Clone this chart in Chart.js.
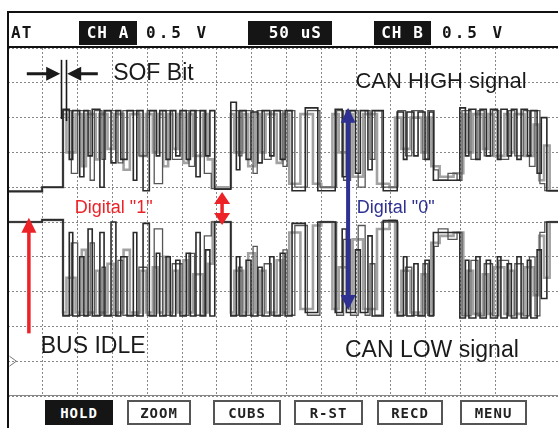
<!DOCTYPE html>
<html>
<head>
<meta charset="utf-8">
<script src="https://cdn.jsdelivr.net/npm/chart.js@4.4.0/dist/chart.umd.min.js"></script>
<style>
  body { margin: 0; background: #fff; }
  #wrap { position: relative; width: 558px; height: 428px; overflow: hidden; }
  #scope { position: absolute; left: 0; top: 0; }
  .rule { position: absolute; background: #111; }
  .lcd { position: absolute; top: 21px; height: 24px; line-height: 24px; font-family: "DejaVu Sans Mono", monospace;
         font-weight: bold; font-size: 16px; white-space: pre; color: #151515; letter-spacing: 1px; }
  .inv { background: #151515; color: #fff; text-align: center; }
  .btn { position: absolute; top: 400px; height: 25px; line-height: 23px; font-family: "DejaVu Sans Mono", monospace;
         font-weight: bold; font-size: 14px; text-align: center; border: 2px solid #555; box-sizing: border-box;
         color: #222; letter-spacing: 1px; }
  .btn.on { background: #151515; color: #fff; border-color: #151515; }
</style>
</head>
<body>
<div id="wrap">
  <canvas id="scope" width="558" height="428"></canvas>

  <!-- scope frame -->
  <div class="rule" style="left:7px;top:11px;width:551px;height:2px"></div>
  <div class="rule" style="left:7px;top:11px;width:2px;height:417px"></div>
  <div class="rule" style="left:7px;top:46px;width:551px;height:2px"></div>
  <div class="rule" style="left:9px;top:395px;width:549px;height:1px;background:#888"></div>

  <!-- status line -->
  <div class="lcd" style="left:11px">AT</div>
  <div class="lcd inv" style="left:79px;width:58px">CH A</div>
  <div class="lcd" style="left:146px;letter-spacing:3px">0.5 V</div>
  <div class="lcd inv" style="left:248px;width:84px"> 50 uS</div>
  <div class="lcd inv" style="left:374px;width:57px">CH B</div>
  <div class="lcd" style="left:442px;letter-spacing:3px">0.5 V</div>

  <!-- soft keys -->
  <div class="btn on" style="left:45px;width:68px">HOLD</div>
  <div class="btn" style="left:127px;width:64px">ZOOM</div>
  <div class="btn" style="left:213px;width:68px">CUBS</div>
  <div class="btn" style="left:294px;width:69px">R-ST</div>
  <div class="btn" style="left:377px;width:66px">RECD</div>
  <div class="btn" style="left:460px;width:67px">MENU</div>
</div>

<script>
// time in µs (50 µs/div), levels in volts (0.5 V/div)
const tMain = [0,49,79,88,93,103,109,115,121,132,
  138,148,155,162,171,180,185,194,203,213,
  218,227,233,241,247,256,262,270,276,284,
  290,297,320,328,333,342,349,359,365,376,
  382,391,398,408,427,445,470,480,486,499,
  506,517,523,539,559,568,573,583,589,599,
  605,611,649,657,662,672,678,687,693,703,
  708,717,723,731,737,746,751,760,766,774,790];
const canHighMain = [2.44,2.5,3.62,2.9,3.6,2.65,3.6,2.95,3.62,2.5,
  3.6,2.85,3.6,2.9,3.6,2.6,3.6,2.45,3.6,2.95,
  3.6,2.9,3.6,2.95,3.6,2.9,3.6,2.65,3.6,2.95,
  3.6,2.47,3.72,2.75,3.6,2.9,3.58,2.85,3.6,2.95,
  3.6,2.9,3.6,2.45,3.64,2.45,3.62,2.65,3.6,2.7,
  3.6,2.75,3.6,2.45,3.58,2.9,3.58,2.95,3.58,2.9,
  3.58,2.6,3.64,2.95,3.62,2.9,3.62,2.95,3.62,2.9,
  3.62,2.95,3.62,2.9,3.62,2.95,3.6,2.7,3.5,2.45,2.45];
const canLowMain = [2.0,2.03,0.65,1.85,0.65,1.5,0.65,1.9,0.65,1.85,
  0.65,2.0,0.65,1.5,0.65,1.85,0.65,1.98,0.65,1.55,
  0.65,1.5,0.65,1.45,0.65,1.55,0.65,1.85,0.65,1.6,
  0.65,2.0,0.65,1.5,0.65,1.45,0.65,1.35,0.65,1.5,
  0.65,1.55,0.65,1.98,0.7,2.0,0.7,1.9,0.7,1.6,
  0.7,1.8,0.65,2.02,0.65,1.5,0.65,1.4,0.65,1.45,
  0.65,1.85,0.62,1.45,0.62,1.5,0.62,1.45,0.62,1.5,
  0.62,1.4,0.62,1.5,0.62,1.45,0.62,1.6,0.9,2.0,2.0];

// older sweeps left on screen by the persistence
const tGhostA = [0,49,79,84,97,106,112,126,131,143,
  152,166,175,190,198,208,215,223,230,237,
  244,252,259,266,280,287,294,320,325,338,
  345,355,362,370,386,394,404,420,438,450,
  466,475,490,495,510,530,548,556,565,578,
  594,602,608,620,640,654,660,668,682,690,
  698,713,720,727,742,755,763,770,778,790];
const canHighGhostA = [2.44,2.5,3.55,3.0,3.55,2.8,3.55,2.9,3.55,3.05,
  3.55,2.75,3.55,2.95,3.55,3.0,3.55,2.8,3.55,3.05,
  3.55,2.85,3.55,2.95,3.55,2.9,2.5,3.55,3.0,3.55,
  2.8,3.55,3.0,3.55,2.85,3.55,2.55,3.55,2.55,2.5,
  3.55,3.0,3.55,2.65,3.55,2.55,2.5,3.5,3.05,3.5,
  3.0,3.5,2.8,2.65,2.7,3.55,3.0,3.55,3.05,3.55,
  2.95,3.55,3.0,3.55,2.95,3.4,2.6,3.1,2.45,2.45];
const canLowGhostA = [2.0,2.03,0.7,1.2,0.7,1.6,0.7,1.3,0.7,1.4,
  0.7,1.6,0.7,1.3,0.7,1.35,0.7,1.5,0.7,1.3,
  0.7,1.45,0.7,1.25,0.7,1.4,2.0,0.7,1.3,0.7,
  1.55,0.7,1.3,0.7,1.45,0.7,1.85,0.75,1.95,2.0,
  0.75,1.35,0.75,1.75,0.75,1.9,2.02,0.7,1.3,0.7,
  1.25,0.7,1.7,1.8,1.85,0.68,1.3,0.68,1.25,0.68,
  1.35,0.68,1.3,0.68,1.35,0.95,1.8,1.2,2.0,2.0];

const tGhostB = [0,49,79,91,100,118,124,135,140,158,
  165,188,200,210,222,236,250,260,268,282,
  292,320,331,336,352,358,368,378,395,401,
  412,430,448,472,482,492,503,513,520,527,
  537,560,571,580,596,603,612,618,632,645,
  652,665,675,684,696,705,719,728,740,749,
  757,764,771,790];
const canHighGhostB = [2.44,2.5,3.6,2.7,3.6,2.6,3.6,2.9,3.6,2.85,
  3.6,2.95,3.6,2.55,3.6,2.9,3.6,2.8,3.6,2.7,
  2.48,3.6,2.95,3.6,2.7,3.6,2.9,3.6,2.8,3.6,
  2.5,3.6,2.5,3.6,2.6,3.6,2.5,3.6,2.9,3.6,
  2.5,3.6,2.95,3.6,2.9,3.6,2.75,2.6,2.7,2.6,
  3.6,2.9,3.6,2.95,3.6,2.9,3.6,2.95,3.6,2.8,
  3.6,2.55,2.45,2.45];
const canLowGhostB = [2.0,2.03,0.66,1.7,0.66,1.7,0.66,1.35,0.66,1.45,
  0.66,1.35,0.66,1.9,0.66,1.4,0.66,1.55,0.66,1.8,
  2.0,0.66,1.35,0.66,1.65,0.66,1.4,0.66,1.6,0.66,
  1.95,0.66,2.0,0.66,1.75,0.66,1.95,0.66,1.4,0.66,
  2.0,0.66,1.35,0.66,1.4,0.66,1.65,1.9,1.75,1.85,
  0.65,1.45,0.65,1.4,0.65,1.45,0.65,1.4,0.65,1.5,
  0.65,1.85,2.0,2.0];

// -------------------------------------------------------------
// labels and arrows drawn on top of the traces (data coords)
// -------------------------------------------------------------
const RED = "#ec2227", BLUE = "#2e3192";
const notes = {
  texts: [
    { t: 151, v: 4.04, text: "SOF Bit", font: '23px "Liberation Sans", Arial', color: "#1a1a1a" },
    { t: 499, v: 3.925, text: "CAN HIGH signal", font: '22px "Liberation Sans", Arial', color: "#1a1a1a" },
    { t: 96, v: 2.13, text: 'Digital "1"', font: '18px "Liberation Sans", Arial', color: RED },
    { t: 501, v: 2.13, text: 'Digital "0"', font: '18px "Liberation Sans", Arial', color: BLUE },
    { t: 47, v: 0.118, text: "BUS IDLE", font: '23px "Liberation Sans", Arial', color: "#1a1a1a" },
    { t: 484, v: 0.06, text: "CAN LOW signal", font: '23px "Liberation Sans", Arial', color: "#1a1a1a" },
  ],
  arrows: [
    { t0: 27, v0: 4.13, t1: 75, v1: 4.13, color: "#1a1a1a", w: 3, len: 14, half: 7 },
    { t0: 129, v0: 4.13, t1: 85, v1: 4.13, color: "#1a1a1a", w: 3, len: 14, half: 7 },
    { t0: 30, v0: 0.4, t1: 30, v1: 2.06, color: RED, w: 3.5, len: 15, half: 7.5 },
    { t0: 307.5, v0: 2.43, t1: 307.5, v1: 1.957, color: RED, w: 3.5, len: 12, half: 8, both: true },
    { t0: 488.5, v0: 3.64, t1: 488.5, v1: 0.736, color: BLUE, w: 4, len: 15, half: 7.5, both: true },
  ],
  bars: [
    { t: 76, v0: 4.33, v1: 3.48 },
    { t: 82.6, v0: 4.33, v1: 3.45 },
  ],
};

function head(ctx, tipX, tipY, ux, uy, len, half) {
  const bx = tipX - ux * len, by = tipY - uy * len;
  ctx.beginPath();
  ctx.moveTo(tipX, tipY);
  ctx.lineTo(bx - uy * half, by + ux * half);
  ctx.lineTo(bx + uy * half, by - ux * half);
  ctx.closePath();
  ctx.fill();
}

const scopeNotes = {
  id: "scopeNotes",
  afterDatasetsDraw(chart) {
    const { ctx, scales: { x, y } } = chart;
    ctx.save();

    notes.bars.forEach((b) => {
      const px = Math.round(x.getPixelForValue(b.t)) + 0.5;
      ctx.strokeStyle = "#1a1a1a";
      ctx.lineWidth = 1.6;
      ctx.beginPath();
      ctx.moveTo(px, y.getPixelForValue(b.v0));
      ctx.lineTo(px, y.getPixelForValue(b.v1));
      ctx.stroke();
    });

    notes.arrows.forEach((a) => {
      const x0 = x.getPixelForValue(a.t0), y0 = y.getPixelForValue(a.v0);
      const x1 = x.getPixelForValue(a.t1), y1 = y.getPixelForValue(a.v1);
      const d = Math.hypot(x1 - x0, y1 - y0);
      const ux = (x1 - x0) / d, uy = (y1 - y0) / d;
      ctx.strokeStyle = a.color;
      ctx.fillStyle = a.color;
      ctx.lineWidth = a.w;
      ctx.beginPath();
      ctx.moveTo(a.both ? x0 + ux * (a.len - 1) : x0, a.both ? y0 + uy * (a.len - 1) : y0);
      ctx.lineTo(x1 - ux * (a.len - 1), y1 - uy * (a.len - 1));
      ctx.stroke();
      head(ctx, x1, y1, ux, uy, a.len, a.half);
      if (a.both) head(ctx, x0, y0, -ux, -uy, a.len, a.half);
    });

    ctx.textBaseline = "alphabetic";
    notes.texts.forEach((n) => {
      ctx.font = n.font;
      ctx.fillStyle = n.color;
      ctx.fillText(n.text, x.getPixelForValue(n.t), y.getPixelForValue(n.v));
    });

    // ground marker of the channels
    const gx = x.getPixelForValue(2), gy = y.getPixelForValue(0);
    ctx.strokeStyle = "#777";
    ctx.lineWidth = 1;
    ctx.beginPath();
    ctx.moveTo(gx, gy - 5);
    ctx.lineTo(gx + 7, gy);
    ctx.lineTo(gx, gy + 5);
    ctx.stroke();

    ctx.restore();
  },
};

function trace(times, levels, color, width, order) {
  return {
    data: times.map((t, i) => ({ x: t, y: levels[i] })),
    stepped: true,
    borderColor: color,
    borderWidth: width,
    pointRadius: 0,
    fill: false,
    order,
  };
}

new Chart(document.getElementById("scope"), {
  type: "line",
  data: {
    datasets: [
      trace(tMain, canHighMain, "#2a2a2a", 1.6, 0),
      trace(tMain, canLowMain, "#2a2a2a", 1.6, 0),
      trace(tGhostB, canHighGhostB, "#555", 1.3, 1),
      trace(tGhostB, canLowGhostB, "#555", 1.3, 1),
      trace(tGhostA, canHighGhostA, "#a2a2a2", 2.6, 2),
      trace(tGhostA, canLowGhostA, "#a2a2a2", 2.6, 2),
    ],
  },
  options: {
    responsive: false,
    animation: false,
    events: [],
    layout: { padding: { left: 8, right: 0, top: 48, bottom: 32 } },
    plugins: { legend: { display: false }, tooltip: { enabled: false } },
    scales: {
      x: {
        type: "linear",
        min: 0,
        max: 790,
        ticks: { display: false, stepSize: 50 },
        grid: { color: "#888", lineWidth: 1, drawTicks: false },
        border: { display: false, dash: [2, 2] },
      },
      y: {
        type: "linear",
        min: -0.5,
        max: 4.5,
        ticks: { display: false, stepSize: 0.5 },
        grid: { color: "#888", lineWidth: 1, drawTicks: false },
        border: { display: false, dash: [2, 2] },
      },
    },
  },
  plugins: [scopeNotes],
});
</script>
</body>
</html>
